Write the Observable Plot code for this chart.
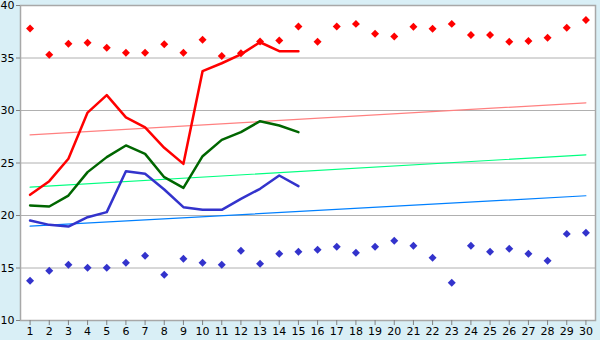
<!DOCTYPE html>
<html>
<head>
<meta charset="utf-8">
<script src="https://cdn.jsdelivr.net/npm/d3@7"></script>
<script src="https://cdn.jsdelivr.net/npm/@observablehq/plot@0.6"></script>
<style>
  html, body { margin: 0; padding: 0; background: #d9eff6; }
  #chart svg { display: block; }
</style>
</head>
<body>
<div id="chart"></div>
<script>
const days = d3.range(1, 31);
const maxTemps = [37.8, 35.3, 36.35, 36.45, 35.97, 35.5, 35.5, 36.3, 35.5, 36.73,
                  35.2, 35.45, 36.57, 36.67, 38.0, 36.54, 38.0, 38.25, 37.3, 37.05,
                  37.97, 37.78, 38.25, 37.2, 37.2, 36.54, 36.63, 36.92, 37.87, 38.63];
const minTemps = [13.78, 14.73, 15.3, 15.02, 15.02, 15.49, 16.16, 14.35, 15.87, 15.49,
                  15.3, 16.64, 15.4, 16.35, 16.54, 16.73, 17.02, 16.45, 17.02, 17.59,
                  17.11, 15.97, 13.59, 17.11, 16.54, 16.83, 16.35, 15.68, 18.25, 18.35];
const lineDays = d3.range(1, 16);
const redLine = [21.97, 23.27, 25.4, 29.8, 31.46, 29.35, 28.4, 26.45, 24.92, 33.75,
                 34.5, 35.35, 36.5, 35.65, 35.65];
const greenLine = [20.95, 20.86, 21.9, 24.13, 25.56, 26.67, 25.87, 23.65, 22.63, 25.65,
                   27.2, 27.94, 28.98, 28.57, 27.94];
const blueLine = [19.52, 19.11, 18.95, 19.84, 20.32, 24.22, 23.97, 22.48, 20.79, 20.54,
                  20.54, 21.59, 22.54, 23.81, 22.79];
const trendDays = [1, 30];
const redTrend = [27.68, 30.73];
const greenTrend = [22.7, 25.78];
const blueTrend = [18.98, 21.88];
const yTicks = [10, 15, 20, 25, 30, 35, 40];
const gridValues = [15, 20, 25, 30, 35];

const pts = (xs, ys) => xs.map((x, i) => ({x, y: ys[i]}));

const chart = Plot.plot({
  width: 600,
  height: 340,
  marginLeft: 20,
  marginRight: 5,
  marginTop: 5,
  marginBottom: 20,
  style: {background: "#d9eff6", fontFamily: "DejaVu Sans", fontSize: "11px", color: "#000"},
  x: {domain: [0.5, 30.5], ticks: days, tickFormat: d => String(d), tickSize: 5, tickPadding: 2, label: null},
  y: {domain: [10, 40], ticks: yTicks, tickSize: 4, tickPadding: 2, label: null},
  marks: [
    Plot.frame({fill: "white", stroke: "none"}),
    Plot.ruleY(gridValues, {stroke: "#b0b0b0", strokeWidth: 1}),
    Plot.line(pts(trendDays, redTrend), {x: "x", y: "y", stroke: "#ff8080", strokeWidth: 1.2}),
    Plot.line(pts(trendDays, greenTrend), {x: "x", y: "y", stroke: "#00ff80", strokeWidth: 1.2}),
    Plot.line(pts(trendDays, blueTrend), {x: "x", y: "y", stroke: "#0080ff", strokeWidth: 1.2}),
    Plot.line(pts(lineDays, redLine), {x: "x", y: "y", stroke: "#ff0000", strokeWidth: 2.5}),
    Plot.line(pts(lineDays, greenLine), {x: "x", y: "y", stroke: "#006600", strokeWidth: 2.5}),
    Plot.line(pts(lineDays, blueLine), {x: "x", y: "y", stroke: "#3333cc", strokeWidth: 2.5}),
    Plot.dot(pts(days, maxTemps), {x: "x", y: "y", symbol: "diamond2", r: 3.6, fill: "#ff0000", stroke: "none"}),
    Plot.dot(pts(days, minTemps), {x: "x", y: "y", symbol: "diamond2", r: 3.6, fill: "#3333cc", stroke: "none"}),
    Plot.frame({stroke: "#a8a8a8", strokeWidth: 1.5}),
    Plot.axisX({ticks: days, tickFormat: d => String(d), tickSize: 5, tickPadding: 2, stroke: "#808080"}),
    Plot.axisY({ticks: yTicks, tickSize: 4, tickPadding: 2, stroke: "#808080"})
  ]
});
document.getElementById("chart").appendChild(chart);
</script>
</body>
</html>
